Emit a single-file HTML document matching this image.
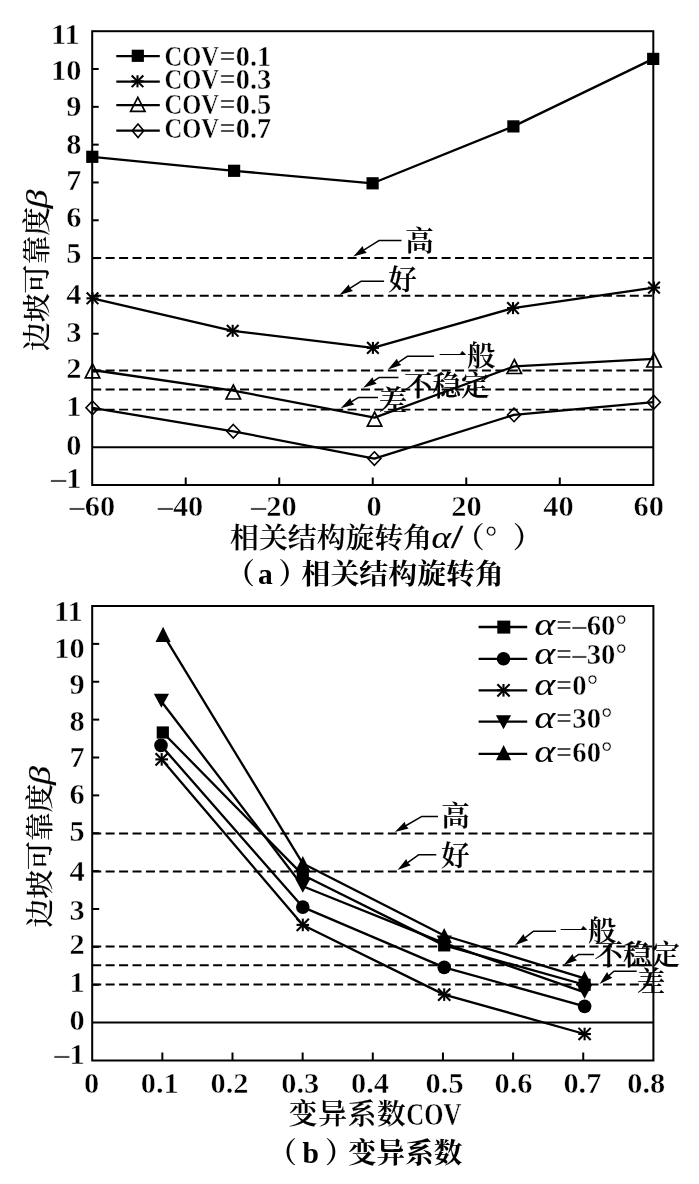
<!DOCTYPE html>
<html lang="zh"><head><meta charset="utf-8"><title>边坡可靠度</title>
<style>
html,body{margin:0;padding:0;background:#fff;}
body{width:699px;height:1184px;overflow:hidden;}
svg{display:block;}
text{fill:#000;}
</style></head><body>
<svg width="699" height="1184" viewBox="0 0 699 1184">
<rect width="699" height="1184" fill="#fff"/>
<rect x="92.2" y="31.2" width="561.10" height="453.80" fill="none" stroke="#000" stroke-width="2.0"/>
<line x1="92.20" y1="409.37" x2="98.70" y2="409.37" stroke="#000" stroke-width="2.0" />
<line x1="92.20" y1="371.55" x2="98.70" y2="371.55" stroke="#000" stroke-width="2.0" />
<line x1="92.20" y1="333.73" x2="98.70" y2="333.73" stroke="#000" stroke-width="2.0" />
<line x1="92.20" y1="295.92" x2="98.70" y2="295.92" stroke="#000" stroke-width="2.0" />
<line x1="92.20" y1="258.10" x2="98.70" y2="258.10" stroke="#000" stroke-width="2.0" />
<line x1="92.20" y1="220.28" x2="98.70" y2="220.28" stroke="#000" stroke-width="2.0" />
<line x1="92.20" y1="182.47" x2="98.70" y2="182.47" stroke="#000" stroke-width="2.0" />
<line x1="92.20" y1="144.65" x2="98.70" y2="144.65" stroke="#000" stroke-width="2.0" />
<line x1="92.20" y1="106.83" x2="98.70" y2="106.83" stroke="#000" stroke-width="2.0" />
<line x1="92.20" y1="69.02" x2="98.70" y2="69.02" stroke="#000" stroke-width="2.0" />
<line x1="92.20" y1="447.18" x2="653.30" y2="447.18" stroke="#000" stroke-width="2.0" />
<line x1="185.72" y1="485.00" x2="185.72" y2="477.50" stroke="#000" stroke-width="2.0" />
<line x1="279.23" y1="485.00" x2="279.23" y2="477.50" stroke="#000" stroke-width="2.0" />
<line x1="372.75" y1="485.00" x2="372.75" y2="477.50" stroke="#000" stroke-width="2.0" />
<line x1="466.27" y1="485.00" x2="466.27" y2="477.50" stroke="#000" stroke-width="2.0" />
<line x1="559.78" y1="485.00" x2="559.78" y2="477.50" stroke="#000" stroke-width="2.0" />
<line x1="92.20" y1="257.90" x2="653.30" y2="257.90" stroke="#000" stroke-width="1.95" stroke-dasharray="9 4.44"/>
<line x1="92.20" y1="295.70" x2="653.30" y2="295.70" stroke="#000" stroke-width="1.95" stroke-dasharray="9 4.44"/>
<line x1="92.20" y1="370.40" x2="653.30" y2="370.40" stroke="#000" stroke-width="1.95" stroke-dasharray="9 4.44"/>
<line x1="92.20" y1="389.50" x2="653.30" y2="389.50" stroke="#000" stroke-width="1.95" stroke-dasharray="9 4.44"/>
<line x1="92.20" y1="409.60" x2="653.30" y2="409.60" stroke="#000" stroke-width="1.95" stroke-dasharray="9 4.44"/>
<polyline points="92.30,156.80 234.10,170.80 372.60,183.30 513.40,126.40 653.20,58.90" fill="none" stroke="#000" stroke-width="2.3" stroke-linejoin="round" />
<polyline points="92.50,298.30 232.70,330.80 372.90,347.90 513.00,308.10 654.00,287.60" fill="none" stroke="#000" stroke-width="2.3" stroke-linejoin="round" />
<polyline points="92.50,370.00 233.30,390.60 374.60,417.60 514.30,366.30 654.00,358.80" fill="none" stroke="#000" stroke-width="2.3" stroke-linejoin="round" />
<polyline points="92.50,407.80 233.30,431.30 374.40,458.60 514.00,414.90 653.80,402.20" fill="none" stroke="#000" stroke-width="2.3" stroke-linejoin="round" />
<rect x="86.20" y="150.70" width="12.2" height="12.2" fill="#000"/>
<rect x="228.00" y="164.70" width="12.2" height="12.2" fill="#000"/>
<rect x="366.50" y="177.20" width="12.2" height="12.2" fill="#000"/>
<rect x="507.30" y="120.30" width="12.2" height="12.2" fill="#000"/>
<rect x="647.10" y="52.80" width="12.2" height="12.2" fill="#000"/>
<line x1="86.50" y1="298.30" x2="98.50" y2="298.30" stroke="#000" stroke-width="2.1" />
<line x1="92.50" y1="292.30" x2="92.50" y2="304.30" stroke="#000" stroke-width="2.1" />
<line x1="86.68" y1="292.48" x2="98.32" y2="304.12" stroke="#000" stroke-width="2.1" />
<line x1="86.68" y1="304.12" x2="98.32" y2="292.48" stroke="#000" stroke-width="2.1" />
<line x1="226.70" y1="330.80" x2="238.70" y2="330.80" stroke="#000" stroke-width="2.1" />
<line x1="232.70" y1="324.80" x2="232.70" y2="336.80" stroke="#000" stroke-width="2.1" />
<line x1="226.88" y1="324.98" x2="238.52" y2="336.62" stroke="#000" stroke-width="2.1" />
<line x1="226.88" y1="336.62" x2="238.52" y2="324.98" stroke="#000" stroke-width="2.1" />
<line x1="366.90" y1="347.90" x2="378.90" y2="347.90" stroke="#000" stroke-width="2.1" />
<line x1="372.90" y1="341.90" x2="372.90" y2="353.90" stroke="#000" stroke-width="2.1" />
<line x1="367.08" y1="342.08" x2="378.72" y2="353.72" stroke="#000" stroke-width="2.1" />
<line x1="367.08" y1="353.72" x2="378.72" y2="342.08" stroke="#000" stroke-width="2.1" />
<line x1="507.00" y1="308.10" x2="519.00" y2="308.10" stroke="#000" stroke-width="2.1" />
<line x1="513.00" y1="302.10" x2="513.00" y2="314.10" stroke="#000" stroke-width="2.1" />
<line x1="507.18" y1="302.28" x2="518.82" y2="313.92" stroke="#000" stroke-width="2.1" />
<line x1="507.18" y1="313.92" x2="518.82" y2="302.28" stroke="#000" stroke-width="2.1" />
<line x1="648.00" y1="287.60" x2="660.00" y2="287.60" stroke="#000" stroke-width="2.1" />
<line x1="654.00" y1="281.60" x2="654.00" y2="293.60" stroke="#000" stroke-width="2.1" />
<line x1="648.18" y1="281.78" x2="659.82" y2="293.42" stroke="#000" stroke-width="2.1" />
<line x1="648.18" y1="293.42" x2="659.82" y2="281.78" stroke="#000" stroke-width="2.1" />
<polygon points="92.50,363.80 99.70,377.80 85.30,377.80" fill="none" stroke="#000" stroke-width="1.7" stroke-linejoin="miter"/>
<polygon points="233.30,385.00 240.50,399.00 226.10,399.00" fill="none" stroke="#000" stroke-width="1.7" stroke-linejoin="miter"/>
<polygon points="374.60,412.10 381.80,426.10 367.40,426.10" fill="none" stroke="#000" stroke-width="1.7" stroke-linejoin="miter"/>
<polygon points="514.30,359.50 521.50,373.50 507.10,373.50" fill="none" stroke="#000" stroke-width="1.7" stroke-linejoin="miter"/>
<polygon points="654.00,353.00 661.20,367.00 646.80,367.00" fill="none" stroke="#000" stroke-width="1.7" stroke-linejoin="miter"/>
<polygon points="92.50,401.00 99.00,407.80 92.50,414.60 86.00,407.80" fill="none" stroke="#000" stroke-width="1.6" />
<polygon points="233.30,424.50 239.80,431.30 233.30,438.10 226.80,431.30" fill="none" stroke="#000" stroke-width="1.6" />
<polygon points="374.40,451.80 380.90,458.60 374.40,465.40 367.90,458.60" fill="none" stroke="#000" stroke-width="1.6" />
<polygon points="514.00,408.10 520.50,414.90 514.00,421.70 507.50,414.90" fill="none" stroke="#000" stroke-width="1.6" />
<polygon points="653.80,395.40 660.30,402.20 653.80,409.00 647.30,402.20" fill="none" stroke="#000" stroke-width="1.6" />
<line x1="116.30" y1="56.20" x2="159.80" y2="56.20" stroke="#000" stroke-width="2.3" />
<line x1="116.30" y1="81.70" x2="159.80" y2="81.70" stroke="#000" stroke-width="2.3" />
<line x1="116.30" y1="105.20" x2="159.80" y2="105.20" stroke="#000" stroke-width="2.3" />
<line x1="116.30" y1="130.60" x2="159.80" y2="130.60" stroke="#000" stroke-width="2.3" />
<rect x="131.70" y="49.70" width="12.2" height="12.2" fill="#000"/>
<line x1="131.50" y1="81.30" x2="143.50" y2="81.30" stroke="#000" stroke-width="2.1" />
<line x1="137.50" y1="75.30" x2="137.50" y2="87.30" stroke="#000" stroke-width="2.1" />
<line x1="131.68" y1="75.48" x2="143.32" y2="87.12" stroke="#000" stroke-width="2.1" />
<line x1="131.68" y1="87.12" x2="143.32" y2="75.48" stroke="#000" stroke-width="2.1" />
<polygon points="137.80,97.40 145.00,111.40 130.60,111.40" fill="none" stroke="#000" stroke-width="1.7" stroke-linejoin="miter"/>
<polygon points="138.00,124.00 143.70,130.70 138.00,137.40 132.30,130.70" fill="none" stroke="#000" stroke-width="1.6" />
<text x="164.40" y="65.60" font-size="30.4" text-anchor="start" font-family="Liberation Serif, serif" font-weight="bold" stroke="#fff" stroke-width="0.45" textLength="54.6" lengthAdjust="spacingAndGlyphs" >COV</text>
<text x="219.60" y="65.60" font-size="30.4" text-anchor="start" font-family="Liberation Serif, serif" font-weight="bold" stroke="#fff" stroke-width="0.45" textLength="51.6" lengthAdjust="spacingAndGlyphs" >=0.1</text>
<text x="164.40" y="89.30" font-size="30.4" text-anchor="start" font-family="Liberation Serif, serif" font-weight="bold" stroke="#fff" stroke-width="0.45" textLength="54.6" lengthAdjust="spacingAndGlyphs" >COV</text>
<text x="219.60" y="89.30" font-size="30.4" text-anchor="start" font-family="Liberation Serif, serif" font-weight="bold" stroke="#fff" stroke-width="0.45" textLength="51.6" lengthAdjust="spacingAndGlyphs" >=0.3</text>
<text x="164.40" y="114.10" font-size="30.4" text-anchor="start" font-family="Liberation Serif, serif" font-weight="bold" stroke="#fff" stroke-width="0.45" textLength="54.6" lengthAdjust="spacingAndGlyphs" >COV</text>
<text x="219.60" y="114.10" font-size="30.4" text-anchor="start" font-family="Liberation Serif, serif" font-weight="bold" stroke="#fff" stroke-width="0.45" textLength="51.6" lengthAdjust="spacingAndGlyphs" >=0.5</text>
<text x="164.40" y="138.10" font-size="30.4" text-anchor="start" font-family="Liberation Serif, serif" font-weight="bold" stroke="#fff" stroke-width="0.45" textLength="54.6" lengthAdjust="spacingAndGlyphs" >COV</text>
<text x="219.60" y="138.10" font-size="30.4" text-anchor="start" font-family="Liberation Serif, serif" font-weight="bold" stroke="#fff" stroke-width="0.45" textLength="51.6" lengthAdjust="spacingAndGlyphs" >=0.7</text>
<text x="79.60" y="43.70" font-size="30.4" text-anchor="end" font-family="Liberation Serif, serif" font-weight="bold" stroke="#fff" stroke-width="0.45" >11</text>
<text x="81.50" y="80.20" font-size="30.4" text-anchor="end" font-family="Liberation Serif, serif" font-weight="bold" stroke="#fff" stroke-width="0.45" >10</text>
<text x="81.50" y="116.30" font-size="30.4" text-anchor="end" font-family="Liberation Serif, serif" font-weight="bold" stroke="#fff" stroke-width="0.45" >9</text>
<text x="81.50" y="153.70" font-size="30.4" text-anchor="end" font-family="Liberation Serif, serif" font-weight="bold" stroke="#fff" stroke-width="0.45" >8</text>
<text x="81.50" y="190.30" font-size="30.4" text-anchor="end" font-family="Liberation Serif, serif" font-weight="bold" stroke="#fff" stroke-width="0.45" >7</text>
<text x="81.50" y="227.20" font-size="30.4" text-anchor="end" font-family="Liberation Serif, serif" font-weight="bold" stroke="#fff" stroke-width="0.45" >6</text>
<text x="81.50" y="263.00" font-size="30.4" text-anchor="end" font-family="Liberation Serif, serif" font-weight="bold" stroke="#fff" stroke-width="0.45" >5</text>
<text x="81.50" y="303.70" font-size="30.4" text-anchor="end" font-family="Liberation Serif, serif" font-weight="bold" stroke="#fff" stroke-width="0.45" >4</text>
<text x="81.50" y="342.00" font-size="30.4" text-anchor="end" font-family="Liberation Serif, serif" font-weight="bold" stroke="#fff" stroke-width="0.45" >3</text>
<text x="81.50" y="378.10" font-size="30.4" text-anchor="end" font-family="Liberation Serif, serif" font-weight="bold" stroke="#fff" stroke-width="0.45" >2</text>
<text x="81.50" y="416.20" font-size="30.4" text-anchor="end" font-family="Liberation Serif, serif" font-weight="bold" stroke="#fff" stroke-width="0.45" >1</text>
<text x="81.50" y="454.80" font-size="30.4" text-anchor="end" font-family="Liberation Serif, serif" font-weight="bold" stroke="#fff" stroke-width="0.45" >0</text>
<text x="81.50" y="488.30" font-size="30.4" text-anchor="end" font-family="Liberation Serif, serif" font-weight="bold" stroke="#fff" stroke-width="0.45" >–1</text>
<text x="92.40" y="516.30" font-size="30.4" text-anchor="middle" font-family="Liberation Serif, serif" font-weight="bold" stroke="#fff" stroke-width="0.45" >–60</text>
<text x="180.50" y="516.30" font-size="30.4" text-anchor="middle" font-family="Liberation Serif, serif" font-weight="bold" stroke="#fff" stroke-width="0.45" >–40</text>
<text x="273.80" y="516.30" font-size="30.4" text-anchor="middle" font-family="Liberation Serif, serif" font-weight="bold" stroke="#fff" stroke-width="0.45" >–20</text>
<text x="374.00" y="516.30" font-size="30.4" text-anchor="middle" font-family="Liberation Serif, serif" font-weight="bold" stroke="#fff" stroke-width="0.45" >0</text>
<text x="466.50" y="516.30" font-size="30.4" text-anchor="middle" font-family="Liberation Serif, serif" font-weight="bold" stroke="#fff" stroke-width="0.45" >20</text>
<text x="558.40" y="516.30" font-size="30.4" text-anchor="middle" font-family="Liberation Serif, serif" font-weight="bold" stroke="#fff" stroke-width="0.45" >40</text>
<text x="648.70" y="516.30" font-size="30.4" text-anchor="middle" font-family="Liberation Serif, serif" font-weight="bold" stroke="#fff" stroke-width="0.45" >60</text>
<polyline points="361.28,251.57 378.90,240.60 401.50,240.60" fill="none" stroke="#000" stroke-width="1.5" stroke-linejoin="round" />
<polygon points="353.20,256.60 366.81,252.72 363.94,249.92 362.68,246.10" fill="#000" stroke="none" />
<text x="405.30" y="250.50" font-size="28.5" text-anchor="start" font-family="Liberation Serif, Noto Serif CJK SC, serif" font-weight="600" stroke="#000" stroke-width="0.15" >高</text>
<polyline points="347.43,289.88 360.90,281.30 384.10,281.30" fill="none" stroke="#000" stroke-width="1.5" stroke-linejoin="round" />
<polygon points="339.40,295.00 352.97,290.98 350.07,288.20 348.77,284.40" fill="#000" stroke="none" />
<text x="388.30" y="290.30" font-size="28.5" text-anchor="start" font-family="Liberation Serif, Noto Serif CJK SC, serif" font-weight="600" stroke="#000" stroke-width="0.15" >好</text>
<polyline points="395.77,364.14 407.30,356.30 434.00,356.30" fill="none" stroke="#000" stroke-width="1.5" stroke-linejoin="round" />
<polygon points="387.90,369.50 401.34,365.07 398.36,362.38 396.95,358.63" fill="#000" stroke="none" />
<text x="438.50" y="365.60" font-size="28.5" text-anchor="start" font-family="Liberation Serif, Noto Serif CJK SC, serif" font-weight="600" stroke="#000" stroke-width="0.15" >一般</text>
<polyline points="371.21,382.66 379.40,377.40 398.50,377.40" fill="none" stroke="#000" stroke-width="1.5" stroke-linejoin="round" />
<polygon points="363.20,387.80 376.75,383.73 373.84,380.97 372.54,377.17" fill="#000" stroke="none" />
<text x="404.00" y="395.60" font-size="28.5" text-anchor="start" font-family="Liberation Serif, Noto Serif CJK SC, serif" font-weight="600" stroke="#000" stroke-width="0.15" >不稳定</text>
<polyline points="348.83,403.35 358.60,397.40 378.00,397.40" fill="none" stroke="#000" stroke-width="1.5" stroke-linejoin="round" />
<polygon points="340.70,408.30 354.34,404.56 351.50,401.72 350.29,397.90" fill="#000" stroke="none" />
<text x="378.80" y="410.60" font-size="28.5" text-anchor="start" font-family="Liberation Serif, Noto Serif CJK SC, serif" font-weight="600" stroke="#000" stroke-width="0.15" >差</text>
<text x="230.00" y="548.20" font-size="28.9" text-anchor="start" font-family="Liberation Serif, Noto Serif CJK SC, serif" font-weight="600" stroke="#000" stroke-width="0.1" >相关结构旋转角</text>
<text transform="translate(431.6,548.2) scale(1.2,1)" font-size="31" font-family="Liberation Serif, serif" font-style="italic" stroke="#000" stroke-width="0.12">α</text>
<text x="452.50" y="548.20" font-size="29" text-anchor="start" font-family="Liberation Sans, sans-serif" stroke="#000" stroke-width="0.4" font-style="italic">/</text>
<text x="455.60" y="548.20" font-size="28.9" text-anchor="start" font-family="Liberation Serif, Noto Serif CJK SC, serif" font-weight="600" stroke="#000" stroke-width="0.15" >（</text>
<text x="485.00" y="548.20" font-size="31" text-anchor="start" font-family="Liberation Serif, serif" font-weight="bold" stroke="#fff" stroke-width="0.45" >°</text>
<text x="513.00" y="548.20" font-size="28.9" text-anchor="start" font-family="Liberation Serif, Noto Serif CJK SC, serif" font-weight="600" stroke="#000" stroke-width="0.15" >）</text>
<text x="226.00" y="584.30" font-size="28.9" text-anchor="start" font-family="Liberation Serif, Noto Serif CJK SC, serif" font-weight="700" >（</text>
<text x="258.00" y="584.30" font-size="29.5" text-anchor="start" font-family="Liberation Serif, serif" font-weight="bold" >a</text>
<text x="278.40" y="584.30" font-size="28.9" text-anchor="start" font-family="Liberation Serif, Noto Serif CJK SC, serif" font-weight="700" >）</text>
<text x="301.60" y="584.30" font-size="28.9" text-anchor="start" font-family="Liberation Serif, Noto Serif CJK SC, serif" font-weight="700" >相关结构旋转角</text>
<text transform="translate(46.7,351.0) rotate(-90)" font-size="28.8" font-family="Liberation Serif, Noto Serif CJK SC, serif" font-weight="500" stroke="#000" stroke-width="0.1">边坡可靠度</text>
<text transform="translate(46.7,208.4) rotate(-90) scale(1.32,1)" font-size="29" font-family="Liberation Serif, serif" font-style="italic" stroke="#000" stroke-width="0.12">β</text>
<rect x="92.2" y="606.0" width="561.20" height="454.50" fill="none" stroke="#000" stroke-width="2.0"/>
<line x1="92.20" y1="984.75" x2="99.20" y2="984.75" stroke="#000" stroke-width="2.0" />
<line x1="92.20" y1="946.88" x2="99.20" y2="946.88" stroke="#000" stroke-width="2.0" />
<line x1="92.20" y1="909.00" x2="99.20" y2="909.00" stroke="#000" stroke-width="2.0" />
<line x1="92.20" y1="871.12" x2="99.20" y2="871.12" stroke="#000" stroke-width="2.0" />
<line x1="92.20" y1="833.25" x2="99.20" y2="833.25" stroke="#000" stroke-width="2.0" />
<line x1="92.20" y1="795.38" x2="99.20" y2="795.38" stroke="#000" stroke-width="2.0" />
<line x1="92.20" y1="757.50" x2="99.20" y2="757.50" stroke="#000" stroke-width="2.0" />
<line x1="92.20" y1="719.62" x2="99.20" y2="719.62" stroke="#000" stroke-width="2.0" />
<line x1="92.20" y1="681.75" x2="99.20" y2="681.75" stroke="#000" stroke-width="2.0" />
<line x1="92.20" y1="643.88" x2="99.20" y2="643.88" stroke="#000" stroke-width="2.0" />
<line x1="92.20" y1="1022.62" x2="653.40" y2="1022.62" stroke="#000" stroke-width="2.0" />
<line x1="162.35" y1="1060.50" x2="162.35" y2="1052.50" stroke="#000" stroke-width="2.0" />
<line x1="232.50" y1="1060.50" x2="232.50" y2="1052.50" stroke="#000" stroke-width="2.0" />
<line x1="302.65" y1="1060.50" x2="302.65" y2="1052.50" stroke="#000" stroke-width="2.0" />
<line x1="372.80" y1="1060.50" x2="372.80" y2="1052.50" stroke="#000" stroke-width="2.0" />
<line x1="442.95" y1="1060.50" x2="442.95" y2="1052.50" stroke="#000" stroke-width="2.0" />
<line x1="513.10" y1="1060.50" x2="513.10" y2="1052.50" stroke="#000" stroke-width="2.0" />
<line x1="583.25" y1="1060.50" x2="583.25" y2="1052.50" stroke="#000" stroke-width="2.0" />
<line x1="92.20" y1="833.40" x2="653.40" y2="833.40" stroke="#000" stroke-width="1.95" stroke-dasharray="9 4.44"/>
<line x1="92.20" y1="871.50" x2="653.40" y2="871.50" stroke="#000" stroke-width="1.95" stroke-dasharray="9 4.44"/>
<line x1="92.20" y1="946.40" x2="653.40" y2="946.40" stroke="#000" stroke-width="1.95" stroke-dasharray="9 4.44"/>
<line x1="92.20" y1="965.20" x2="653.40" y2="965.20" stroke="#000" stroke-width="1.95" stroke-dasharray="9 4.44"/>
<line x1="92.20" y1="984.50" x2="653.40" y2="984.50" stroke="#000" stroke-width="1.95" stroke-dasharray="9 4.44"/>
<polyline points="161.70,759.39 302.80,924.91 444.20,994.60 584.60,1033.99" fill="none" stroke="#000" stroke-width="2.3" stroke-linejoin="round" />
<polyline points="161.00,745.38 302.80,907.11 444.20,967.33 584.60,1006.34" fill="none" stroke="#000" stroke-width="2.3" stroke-linejoin="round" />
<polyline points="162.80,732.50 302.80,874.91 444.20,945.36 584.60,984.75" fill="none" stroke="#000" stroke-width="2.3" stroke-linejoin="round" />
<polyline points="161.40,701.44 302.80,886.27 444.20,943.09 584.60,992.33" fill="none" stroke="#000" stroke-width="2.3" stroke-linejoin="round" />
<polyline points="163.10,634.41 302.80,863.55 444.20,935.51 584.60,978.31" fill="none" stroke="#000" stroke-width="2.3" stroke-linejoin="round" />
<line x1="155.40" y1="759.39" x2="168.00" y2="759.39" stroke="#000" stroke-width="2.1" />
<line x1="161.70" y1="753.09" x2="161.70" y2="765.69" stroke="#000" stroke-width="2.1" />
<line x1="155.59" y1="753.28" x2="167.81" y2="765.50" stroke="#000" stroke-width="2.1" />
<line x1="155.59" y1="765.50" x2="167.81" y2="753.28" stroke="#000" stroke-width="2.1" />
<line x1="296.50" y1="924.91" x2="309.10" y2="924.91" stroke="#000" stroke-width="2.1" />
<line x1="302.80" y1="918.61" x2="302.80" y2="931.21" stroke="#000" stroke-width="2.1" />
<line x1="296.69" y1="918.80" x2="308.91" y2="931.02" stroke="#000" stroke-width="2.1" />
<line x1="296.69" y1="931.02" x2="308.91" y2="918.80" stroke="#000" stroke-width="2.1" />
<line x1="437.90" y1="994.60" x2="450.50" y2="994.60" stroke="#000" stroke-width="2.1" />
<line x1="444.20" y1="988.30" x2="444.20" y2="1000.90" stroke="#000" stroke-width="2.1" />
<line x1="438.09" y1="988.49" x2="450.31" y2="1000.71" stroke="#000" stroke-width="2.1" />
<line x1="438.09" y1="1000.71" x2="450.31" y2="988.49" stroke="#000" stroke-width="2.1" />
<line x1="578.30" y1="1033.99" x2="590.90" y2="1033.99" stroke="#000" stroke-width="2.1" />
<line x1="584.60" y1="1027.69" x2="584.60" y2="1040.29" stroke="#000" stroke-width="2.1" />
<line x1="578.49" y1="1027.88" x2="590.71" y2="1040.10" stroke="#000" stroke-width="2.1" />
<line x1="578.49" y1="1040.10" x2="590.71" y2="1027.88" stroke="#000" stroke-width="2.1" />
<circle cx="161.00" cy="745.38" r="6.8" fill="#000"/>
<circle cx="302.80" cy="907.11" r="6.8" fill="#000"/>
<circle cx="444.20" cy="967.33" r="6.8" fill="#000"/>
<circle cx="584.60" cy="1006.34" r="6.8" fill="#000"/>
<polygon points="153.80,693.84 169.00,693.84 161.40,707.84" fill="#000" stroke="none" />
<polygon points="295.20,878.67 310.40,878.67 302.80,892.67" fill="#000" stroke="none" />
<polygon points="436.60,935.49 451.80,935.49 444.20,949.49" fill="#000" stroke="none" />
<polygon points="577.00,984.73 592.20,984.73 584.60,998.73" fill="#000" stroke="none" />
<rect x="156.70" y="726.40" width="12.2" height="12.2" fill="#000"/>
<rect x="296.70" y="868.81" width="12.2" height="12.2" fill="#000"/>
<rect x="438.10" y="939.26" width="12.2" height="12.2" fill="#000"/>
<rect x="578.50" y="978.65" width="12.2" height="12.2" fill="#000"/>
<polygon points="163.10,626.81 170.70,642.01 155.50,642.01" fill="#000" stroke="none" />
<polygon points="302.80,855.95 310.40,871.15 295.20,871.15" fill="#000" stroke="none" />
<polygon points="444.20,927.91 451.80,943.11 436.60,943.11" fill="#000" stroke="none" />
<polygon points="584.60,970.71 592.20,985.91 577.00,985.91" fill="#000" stroke="none" />
<line x1="478.60" y1="627.00" x2="527.20" y2="627.00" stroke="#000" stroke-width="2.3" />
<line x1="478.60" y1="658.80" x2="527.20" y2="658.80" stroke="#000" stroke-width="2.3" />
<line x1="478.60" y1="690.30" x2="527.20" y2="690.30" stroke="#000" stroke-width="2.3" />
<line x1="478.60" y1="721.70" x2="527.20" y2="721.70" stroke="#000" stroke-width="2.3" />
<line x1="478.60" y1="753.80" x2="527.20" y2="753.80" stroke="#000" stroke-width="2.3" />
<rect x="497.30" y="620.60" width="13.0" height="13.0" fill="#000"/>
<circle cx="503.50" cy="658.80" r="6.8" fill="#000"/>
<line x1="497.20" y1="690.30" x2="509.80" y2="690.30" stroke="#000" stroke-width="2.1" />
<line x1="503.50" y1="684.00" x2="503.50" y2="696.60" stroke="#000" stroke-width="2.1" />
<line x1="497.39" y1="684.19" x2="509.61" y2="696.41" stroke="#000" stroke-width="2.1" />
<line x1="497.39" y1="696.41" x2="509.61" y2="684.19" stroke="#000" stroke-width="2.1" />
<polygon points="495.90,715.20 511.10,715.20 503.50,729.20" fill="#000" stroke="none" />
<polygon points="503.60,745.00 511.20,760.20 496.00,760.20" fill="#000" stroke="none" />
<text transform="translate(534.6,635.0) scale(1.27,1)" font-size="31" font-family="Liberation Serif, serif" font-style="italic" stroke="#000" stroke-width="0.12">α</text>
<text x="556.00" y="635.00" font-size="28.7" text-anchor="start" font-family="Liberation Serif, serif" font-weight="bold" stroke="#fff" stroke-width="0.45" >=–60°</text>
<text transform="translate(534.6,663.7) scale(1.27,1)" font-size="31" font-family="Liberation Serif, serif" font-style="italic" stroke="#000" stroke-width="0.12">α</text>
<text x="556.00" y="663.70" font-size="28.7" text-anchor="start" font-family="Liberation Serif, serif" font-weight="bold" stroke="#fff" stroke-width="0.45" >=–30°</text>
<text transform="translate(534.6,695.2) scale(1.27,1)" font-size="31" font-family="Liberation Serif, serif" font-style="italic" stroke="#000" stroke-width="0.12">α</text>
<text x="556.00" y="695.20" font-size="28.7" text-anchor="start" font-family="Liberation Serif, serif" font-weight="bold" stroke="#fff" stroke-width="0.45" >=0°</text>
<text transform="translate(534.6,728.3) scale(1.27,1)" font-size="31" font-family="Liberation Serif, serif" font-style="italic" stroke="#000" stroke-width="0.12">α</text>
<text x="556.00" y="728.30" font-size="28.7" text-anchor="start" font-family="Liberation Serif, serif" font-weight="bold" stroke="#fff" stroke-width="0.45" >=30°</text>
<text transform="translate(534.6,762.3) scale(1.27,1)" font-size="31" font-family="Liberation Serif, serif" font-style="italic" stroke="#000" stroke-width="0.12">α</text>
<text x="556.00" y="762.30" font-size="28.7" text-anchor="start" font-family="Liberation Serif, serif" font-weight="bold" stroke="#fff" stroke-width="0.45" >=60°</text>
<text x="82.60" y="621.40" font-size="30.4" text-anchor="end" font-family="Liberation Serif, serif" font-weight="bold" stroke="#fff" stroke-width="0.45" >11</text>
<text x="84.60" y="657.90" font-size="30.4" text-anchor="end" font-family="Liberation Serif, serif" font-weight="bold" stroke="#fff" stroke-width="0.45" >10</text>
<text x="84.60" y="694.40" font-size="30.4" text-anchor="end" font-family="Liberation Serif, serif" font-weight="bold" stroke="#fff" stroke-width="0.45" >9</text>
<text x="84.60" y="730.90" font-size="30.4" text-anchor="end" font-family="Liberation Serif, serif" font-weight="bold" stroke="#fff" stroke-width="0.45" >8</text>
<text x="84.60" y="766.60" font-size="30.4" text-anchor="end" font-family="Liberation Serif, serif" font-weight="bold" stroke="#fff" stroke-width="0.45" >7</text>
<text x="84.60" y="803.90" font-size="30.4" text-anchor="end" font-family="Liberation Serif, serif" font-weight="bold" stroke="#fff" stroke-width="0.45" >6</text>
<text x="84.60" y="840.60" font-size="30.4" text-anchor="end" font-family="Liberation Serif, serif" font-weight="bold" stroke="#fff" stroke-width="0.45" >5</text>
<text x="84.60" y="881.20" font-size="30.4" text-anchor="end" font-family="Liberation Serif, serif" font-weight="bold" stroke="#fff" stroke-width="0.45" >4</text>
<text x="84.60" y="920.30" font-size="30.4" text-anchor="end" font-family="Liberation Serif, serif" font-weight="bold" stroke="#fff" stroke-width="0.45" >3</text>
<text x="84.60" y="954.10" font-size="30.4" text-anchor="end" font-family="Liberation Serif, serif" font-weight="bold" stroke="#fff" stroke-width="0.45" >2</text>
<text x="84.60" y="992.10" font-size="30.4" text-anchor="end" font-family="Liberation Serif, serif" font-weight="bold" stroke="#fff" stroke-width="0.45" >1</text>
<text x="84.60" y="1030.30" font-size="30.4" text-anchor="end" font-family="Liberation Serif, serif" font-weight="bold" stroke="#fff" stroke-width="0.45" >0</text>
<text x="84.60" y="1063.90" font-size="30.4" text-anchor="end" font-family="Liberation Serif, serif" font-weight="bold" stroke="#fff" stroke-width="0.45" >–1</text>
<text x="91.60" y="1092.50" font-size="30.4" text-anchor="middle" font-family="Liberation Serif, serif" font-weight="bold" stroke="#fff" stroke-width="0.45" >0</text>
<text x="159.70" y="1092.50" font-size="30.4" text-anchor="middle" font-family="Liberation Serif, serif" font-weight="bold" stroke="#fff" stroke-width="0.45" >0.1</text>
<text x="229.50" y="1092.50" font-size="30.4" text-anchor="middle" font-family="Liberation Serif, serif" font-weight="bold" stroke="#fff" stroke-width="0.45" >0.2</text>
<text x="300.30" y="1092.50" font-size="30.4" text-anchor="middle" font-family="Liberation Serif, serif" font-weight="bold" stroke="#fff" stroke-width="0.45" >0.3</text>
<text x="370.00" y="1092.50" font-size="30.4" text-anchor="middle" font-family="Liberation Serif, serif" font-weight="bold" stroke="#fff" stroke-width="0.45" >0.4</text>
<text x="444.60" y="1092.50" font-size="30.4" text-anchor="middle" font-family="Liberation Serif, serif" font-weight="bold" stroke="#fff" stroke-width="0.45" >0.5</text>
<text x="513.50" y="1092.50" font-size="30.4" text-anchor="middle" font-family="Liberation Serif, serif" font-weight="bold" stroke="#fff" stroke-width="0.45" >0.6</text>
<text x="582.40" y="1092.50" font-size="30.4" text-anchor="middle" font-family="Liberation Serif, serif" font-weight="bold" stroke="#fff" stroke-width="0.45" >0.7</text>
<text x="646.30" y="1092.50" font-size="30.4" text-anchor="middle" font-family="Liberation Serif, serif" font-weight="bold" stroke="#fff" stroke-width="0.45" >0.8</text>
<polyline points="403.14,827.23 421.50,816.60 438.00,816.60" fill="none" stroke="#000" stroke-width="1.5" stroke-linejoin="round" />
<polygon points="394.90,832.00 408.62,828.56 405.85,825.66 404.72,821.81" fill="#000" stroke="none" />
<text x="441.30" y="826.00" font-size="28.5" text-anchor="start" font-family="Liberation Serif, Noto Serif CJK SC, serif" font-weight="600" stroke="#000" stroke-width="0.15" >高</text>
<polyline points="405.24,864.46 418.90,854.70 436.30,854.70" fill="none" stroke="#000" stroke-width="1.5" stroke-linejoin="round" />
<polygon points="397.50,870.00 410.83,865.26 407.79,862.64 406.30,858.92" fill="#000" stroke="none" />
<text x="441.00" y="865.50" font-size="28.5" text-anchor="start" font-family="Liberation Serif, Noto Serif CJK SC, serif" font-weight="600" stroke="#000" stroke-width="0.15" >好</text>
<polyline points="522.59,939.55 533.60,931.20 556.00,931.20" fill="none" stroke="#000" stroke-width="1.5" stroke-linejoin="round" />
<polygon points="515.00,945.30 528.19,940.19 525.08,937.66 523.48,933.98" fill="#000" stroke="none" />
<text x="559.50" y="940.80" font-size="28.5" text-anchor="start" font-family="Liberation Serif, Noto Serif CJK SC, serif" font-weight="600" stroke="#000" stroke-width="0.15" >一般</text>
<polyline points="571.47,959.51 578.70,954.40 594.00,954.40" fill="none" stroke="#000" stroke-width="1.5" stroke-linejoin="round" />
<polygon points="563.70,965.00 577.06,960.34 574.03,957.70 572.56,953.97" fill="#000" stroke="none" />
<text x="594.50" y="965.00" font-size="28.5" text-anchor="start" font-family="Liberation Serif, Noto Serif CJK SC, serif" font-weight="600" stroke="#000" stroke-width="0.15" >不稳定</text>
<polyline points="606.69,977.65 613.90,971.20 636.70,971.20" fill="none" stroke="#000" stroke-width="1.5" stroke-linejoin="round" />
<polygon points="599.60,984.00 612.33,977.84 609.02,975.56 607.13,972.02" fill="#000" stroke="none" />
<text x="636.80" y="992.00" font-size="28.5" text-anchor="start" font-family="Liberation Serif, Noto Serif CJK SC, serif" font-weight="600" stroke="#000" stroke-width="0.15" >差</text>
<text x="288.80" y="1124.30" font-size="28.7" text-anchor="start" font-family="Liberation Serif, Noto Serif CJK SC, serif" font-weight="600" stroke="#000" stroke-width="0.1" letter-spacing="0.75">变异系数</text>
<text x="406.30" y="1124.70" font-size="32" text-anchor="start" font-family="Liberation Serif, serif" font-weight="bold" stroke="#fff" stroke-width="0.45" textLength="55.0" lengthAdjust="spacingAndGlyphs" >COV</text>
<text x="268.00" y="1162.80" font-size="28.9" text-anchor="start" font-family="Liberation Serif, Noto Serif CJK SC, serif" font-weight="700" >（</text>
<text x="302.50" y="1162.80" font-size="29.5" text-anchor="start" font-family="Liberation Serif, serif" font-weight="bold" >b</text>
<text x="325.00" y="1162.80" font-size="28.9" text-anchor="start" font-family="Liberation Serif, Noto Serif CJK SC, serif" font-weight="700" >）</text>
<text x="348.00" y="1162.80" font-size="28.6" text-anchor="start" font-family="Liberation Serif, Noto Serif CJK SC, serif" font-weight="700" >变异系数</text>
<text transform="translate(50.2,927.6) rotate(-90)" font-size="28.8" font-family="Liberation Serif, Noto Serif CJK SC, serif" font-weight="500" stroke="#000" stroke-width="0.1">边坡可靠度</text>
<text transform="translate(50.2,785.0) rotate(-90) scale(1.32,1)" font-size="29" font-family="Liberation Serif, serif" font-style="italic" stroke="#000" stroke-width="0.12">β</text>
</svg>
</body></html>
